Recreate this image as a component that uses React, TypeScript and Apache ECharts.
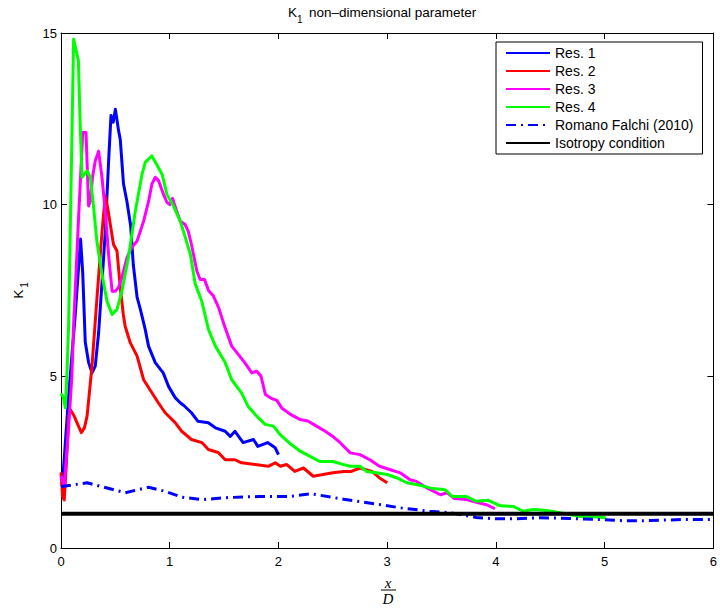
import React, { useEffect, useRef } from "react";
import * as echarts from "echarts";

const xTicks = [0, 1, 2, 3, 4, 5, 6];
const yTicks = [0, 5, 10, 15];

const seriesNames = ["Res. 1", "Res. 2", "Res. 3", "Res. 4", "Romano Falchi (2010)", "Isotropy condition"];

const res1: number[][] = [
  [0.01, 1.8], [0.03, 2.6], [0.067, 4.3], [0.1, 5.6], [0.13, 6.75], [0.18, 9.0], [0.2, 8.0], [0.223, 6.0],
  [0.254, 5.4], [0.285, 5.1], [0.315, 5.3], [0.346, 6.27], [0.377, 7.73], [0.407, 9.2], [0.44, 11.4],
  [0.46, 12.6], [0.48, 12.4], [0.5, 12.78], [0.53, 12.15], [0.545, 11.9], [0.575, 10.6], [0.606, 10.1],
  [0.64, 9.4], [0.665, 8.25], [0.7, 7.3], [0.73, 6.95], [0.775, 6.36], [0.805, 5.88], [0.867, 5.4],
  [0.94, 5.1], [0.99, 4.7], [1.05, 4.38], [1.096, 4.23], [1.13, 4.15], [1.2, 3.94], [1.26, 3.69],
  [1.355, 3.65], [1.42, 3.5], [1.51, 3.4], [1.556, 3.25], [1.6, 3.4], [1.675, 3.07], [1.77, 3.16],
  [1.81, 2.96], [1.9, 3.07], [1.97, 2.92], [2.0, 2.72],
];

const res2: number[][] = [
  [0.0, 2.2], [0.015, 1.5], [0.03, 1.4], [0.05, 2.5], [0.07, 3.8], [0.085, 4.03], [0.12, 3.85],
  [0.147, 3.65], [0.187, 3.36], [0.215, 3.5], [0.24, 3.84], [0.285, 5.3], [0.33, 7.24], [0.377, 9.2],
  [0.407, 10.25], [0.43, 9.9], [0.453, 9.43], [0.483, 8.84], [0.515, 8.65], [0.545, 7.6], [0.573, 6.8],
  [0.59, 6.46], [0.637, 5.98], [0.7, 5.59], [0.76, 4.9], [0.836, 4.52], [0.895, 4.23], [0.958, 3.94],
  [1.05, 3.65], [1.11, 3.4], [1.2, 3.16], [1.296, 3.07], [1.355, 2.87], [1.446, 2.78], [1.51, 2.57],
  [1.6, 2.57], [1.66, 2.48], [1.786, 2.43], [1.906, 2.38], [1.97, 2.48], [2.017, 2.38], [2.077, 2.43],
  [2.15, 2.23], [2.23, 2.33], [2.32, 2.09], [2.41, 2.14], [2.5, 2.19], [2.6, 2.23], [2.67, 2.23],
  [2.75, 2.33], [2.86, 2.23], [2.93, 2.04], [3.0, 1.9],
];

const res3: number[][] = [
  [0.0, 2.1], [0.03, 1.8], [0.067, 3.36], [0.1, 5.0], [0.116, 6.5], [0.16, 9.5], [0.2, 12.1], [0.23, 12.1],
  [0.254, 9.96], [0.27, 10.1], [0.29, 10.8], [0.315, 11.27], [0.346, 11.56], [0.377, 10.8], [0.407, 9.8],
  [0.44, 8.46], [0.47, 7.48], [0.5, 7.48], [0.53, 7.6], [0.56, 7.88], [0.607, 8.46], [0.65, 8.75],
  [0.7, 8.94], [0.76, 9.52], [0.806, 10.1], [0.836, 10.6], [0.867, 10.8], [0.897, 10.7], [0.943, 10.3],
  [0.974, 10.07], [1.0, 10.0], [1.026, 10.18], [1.055, 9.9], [1.097, 9.52], [1.14, 9.43], [1.17, 9.23],
  [1.2, 8.84], [1.25, 8.06], [1.28, 7.82], [1.32, 7.82], [1.357, 7.5], [1.4, 7.35], [1.45, 7.0],
  [1.5, 6.5], [1.57, 5.88], [1.69, 5.4], [1.755, 5.1], [1.8, 5.15], [1.84, 5.0], [1.88, 4.47],
  [1.94, 4.35], [1.985, 4.3], [2.03, 4.08], [2.107, 3.9], [2.2, 3.74], [2.27, 3.7], [2.35, 3.55],
  [2.43, 3.4], [2.5, 3.25], [2.57, 3.06], [2.66, 2.77], [2.75, 2.72], [2.84, 2.57], [2.93, 2.38],
  [3.03, 2.28], [3.12, 2.19], [3.21, 1.99], [3.27, 1.94], [3.36, 1.76], [3.49, 1.55], [3.55, 1.61],
  [3.62, 1.44], [3.73, 1.41], [3.82, 1.33], [3.915, 1.26], [3.99, 1.15],
];

const res4: number[][] = [
  [0.0, 4.5], [0.02, 4.4], [0.04, 4.09], [0.055, 5.1], [0.07, 6.5], [0.095, 11.0], [0.116, 14.82],
  [0.147, 14.38], [0.16, 14.2], [0.175, 12.5], [0.193, 10.8], [0.24, 10.98], [0.27, 10.8], [0.3, 9.92],
  [0.33, 8.94], [0.377, 7.97], [0.423, 7.19], [0.47, 6.8], [0.515, 6.95], [0.56, 7.48], [0.62, 8.46],
  [0.683, 9.8], [0.745, 10.88], [0.775, 11.23], [0.836, 11.42], [0.88, 11.17], [0.93, 10.88],
  [0.974, 10.3], [1.035, 9.96], [1.097, 9.52], [1.14, 9.08], [1.19, 8.55], [1.234, 7.7], [1.296, 7.17],
  [1.357, 6.36], [1.42, 5.88], [1.51, 5.4], [1.57, 4.9], [1.66, 4.52], [1.72, 4.13], [1.8, 3.84],
  [1.878, 3.6], [1.954, 3.55], [2.015, 3.3], [2.1, 3.06], [2.2, 2.82], [2.29, 2.67], [2.38, 2.52],
  [2.5, 2.52], [2.6, 2.43], [2.66, 2.38], [2.75, 2.38], [2.81, 2.23], [2.9, 2.19], [3.0, 2.14],
  [3.09, 2.04], [3.18, 1.9], [3.27, 1.85], [3.36, 1.78], [3.42, 1.73], [3.53, 1.7], [3.6, 1.5],
  [3.73, 1.5], [3.82, 1.36], [3.93, 1.39], [4.04, 1.23], [4.16, 1.21], [4.25, 1.07], [4.34, 1.12],
  [4.47, 1.09], [4.59, 1.03], [4.77, 0.92], [4.9, 0.91], [5.01, 0.88],
];

const romano: number[][] = [
  [0.0, 1.78], [0.024, 1.8], [0.24, 1.9], [0.407, 1.76], [0.59, 1.61], [0.805, 1.77], [0.96, 1.65],
  [1.11, 1.48], [1.296, 1.41], [1.54, 1.47], [1.82, 1.5], [2.1, 1.5], [2.3, 1.58], [2.6, 1.42],
  [2.9, 1.28], [3.12, 1.17], [3.39, 1.07], [3.58, 1.03], [3.82, 0.89], [4.0, 0.85], [4.19, 0.85],
  [4.4, 0.88], [4.56, 0.87], [4.77, 0.85], [4.96, 0.83], [5.2, 0.79], [5.42, 0.8], [5.72, 0.83],
  [6.0, 0.83],
];

const isotropy: number[][] = [[0, 1], [6, 1]];

const colors = ["#0000ff", "#ff0000", "#ff00ff", "#00ff00", "#0000ff", "#000000"];

const FONT = "'Liberation Sans', Arial, Helvetica, sans-serif";
const SERIF = "'Liberation Serif', 'Times New Roman', serif";

export default function App() {
  const ref = useRef<HTMLDivElement>(null);
  useEffect(() => {
    if (!ref.current) return;
    const chart = echarts.init(ref.current, undefined, { renderer: "svg" });
    const datasets = [res1, res2, res3, res4, romano, isotropy];
    const axisCommon = {
      type: "value" as const,
      axisLine: { show: true, onZero: false, lineStyle: { color: "#000", width: 1 } },
      axisTick: { show: true, inside: true, length: 6, lineStyle: { color: "#000" } },
      splitLine: { show: false },
    };
    chart.setOption({
      animation: false,
      backgroundColor: "#fff",
      grid: { left: 61, right: 6, top: 33, bottom: 65, containLabel: false },
      xAxis: [
        {
          ...axisCommon,
          position: "bottom",
          min: xTicks[0],
          max: xTicks[xTicks.length - 1],
          interval: 1,
          axisLabel: { color: "#000", fontSize: 13, fontFamily: FONT, margin: 7 },
        },
        {
          ...axisCommon,
          position: "top",
          min: xTicks[0],
          max: xTicks[xTicks.length - 1],
          interval: 1,
          axisLabel: { show: false },
        },
      ],
      yAxis: [
        {
          ...axisCommon,
          position: "left",
          min: yTicks[0],
          max: yTicks[yTicks.length - 1],
          interval: 5,
          axisLabel: { color: "#000", fontSize: 13, fontFamily: FONT, margin: 4 },
        },
        {
          ...axisCommon,
          position: "right",
          min: yTicks[0],
          max: yTicks[yTicks.length - 1],
          interval: 5,
          axisLabel: { show: false },
        },
      ],
      legend: {
        show: true,
        orient: "vertical",
        left: 496,
        top: 42,
        data: seriesNames,
        itemWidth: 44,
        itemHeight: 14,
        itemGap: 4,
        padding: [4, 9, 4, 9],
        borderColor: "#000",
        borderWidth: 1,
        borderRadius: 0,
        backgroundColor: "#fff",
        itemStyle: { color: "transparent", borderWidth: 0, opacity: 0 },
        textStyle: { color: "#000", fontSize: 14, fontFamily: FONT },
      },
      series: datasets.map((d, i) => ({
        name: seriesNames[i],
        type: "line",
        data: d,
        symbol: "none",
        showSymbol: false,
        smooth: false,
        color: colors[i],
        lineStyle: {
          color: colors[i],
          width: i === 5 ? 4 : 3,
          type: i === 4 ? [10, 5, 2, 5] : "solid",
          join: "round",
        },
        z: 2 + i,
      })),
      graphic: [
        {
          type: "text",
          x: 288,
          y: 12,
          style: { text: "K", fontSize: 13.5, fontFamily: FONT, fill: "#000", textVerticalAlign: "middle", textAlign: "left" },
        },
        {
          type: "text",
          x: 297,
          y: 19,
          style: { text: "1", fontSize: 10, fontFamily: FONT, fill: "#000", textVerticalAlign: "middle", textAlign: "left" },
        },
        {
          type: "text",
          x: 309,
          y: 12,
          style: {
            text: "non\u2013dimensional parameter",
            fontSize: 13.5,
            fontFamily: FONT,
            fill: "#000",
            textVerticalAlign: "middle",
            textAlign: "left",
          },
        },
        {
          type: "text",
          x: 18,
          y: 294,
          rotation: Math.PI / 2,
          style: { text: "K", fontSize: 13.5, fontFamily: FONT, fill: "#000", textVerticalAlign: "middle", textAlign: "center" },
        },
        {
          type: "text",
          x: 24,
          y: 285,
          rotation: Math.PI / 2,
          style: { text: "1", fontSize: 10, fontFamily: FONT, fill: "#000", textVerticalAlign: "middle", textAlign: "center" },
        },
        {
          type: "text",
          x: 388,
          y: 583,
          style: { text: "x", fontSize: 15, fontStyle: "italic", fontFamily: SERIF, fill: "#000", textVerticalAlign: "middle", textAlign: "center" },
        },
        {
          type: "line",
          shape: { x1: 381, y1: 590, x2: 396, y2: 590 },
          style: { stroke: "#000", lineWidth: 1 },
        },
        {
          type: "text",
          x: 388,
          y: 599,
          style: { text: "D", fontSize: 15, fontStyle: "italic", fontFamily: SERIF, fill: "#000", textVerticalAlign: "middle", textAlign: "center" },
        },
      ],
    });
    return () => chart.dispose();
  }, []);
  return (
    <div
      ref={ref}
      style={{ position: "fixed", left: 0, top: 0, width: 720, height: 613, background: "#fff" }}
    />
  );
}
